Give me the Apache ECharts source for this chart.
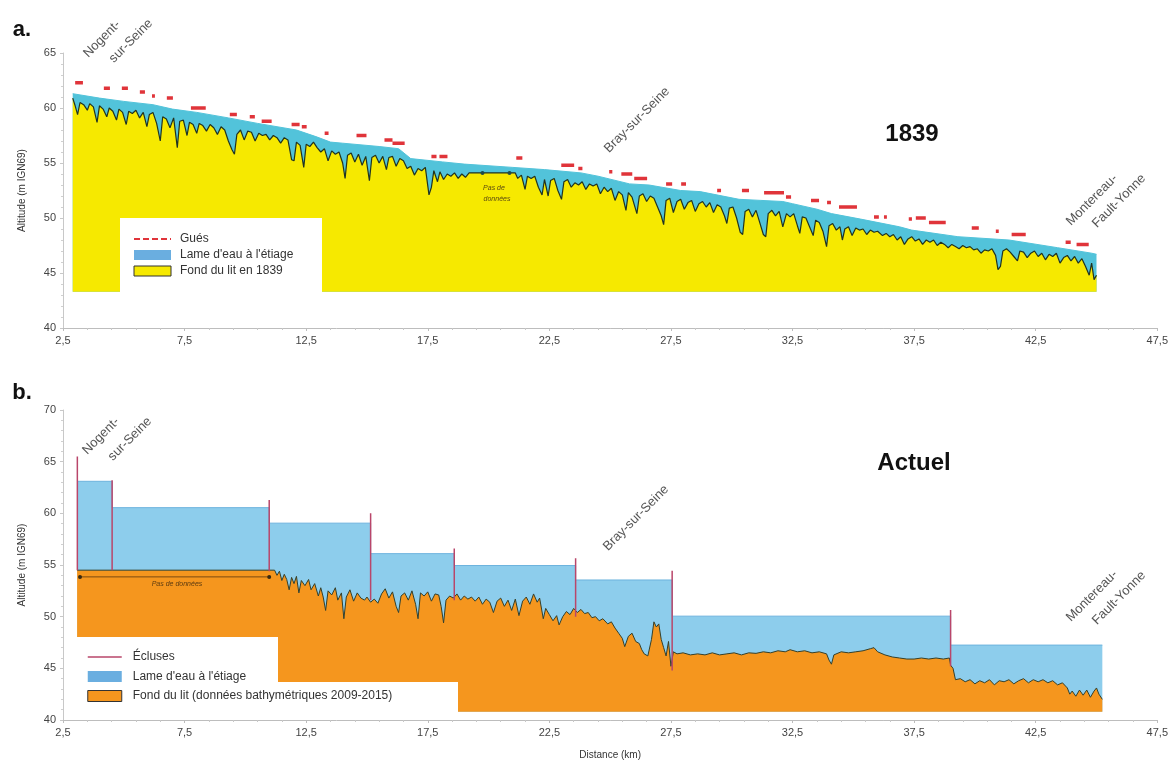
<!DOCTYPE html>
<html>
<head>
    <meta charset="utf-8">
    <title>Profil en long de la Seine</title>
    <script src="https://cdn.jsdelivr.net/npm/echarts@6/dist/echarts.min.js"></script>
    <style>
        html, body { margin: 0; padding: 0; background: #fff; }
        #main { width: 1171px; height: 766px; }
    </style>
</head>
<body>
<div id="main"></div>
<script type="text/javascript">
    // --- a. 1839 ---
    // fond du lit (km, altitude)
    var bed1839 = [[2.9,60.9],[3.0,60.2],[3.1,59.4],[3.2,60.5],[3.35,60.3],[3.5,59.8],[3.6,60.4],[3.75,60.1],[3.9,58.7],[4.0,60.2],[4.15,59.9],[4.3,59.2],[4.4,60.0],[4.55,59.7],[4.7,58.9],[4.8,59.9],[4.95,59.6],[5.1,58.5],[5.2,59.7],[5.35,59.5],[5.5,59.8],[5.65,59.1],[5.8,59.6],[5.95,58.3],[6.05,59.4],[6.2,59.6],[6.35,58.6],[6.5,57.0],[6.6,59.2],[6.75,59.0],[6.9,58.2],[7.05,59.1],[7.2,56.4],[7.3,58.8],[7.45,58.9],[7.6,57.5],[7.7,58.7],[7.85,58.5],[8.0,57.7],[8.1,58.6],[8.25,58.4],[8.4,57.9],[8.55,58.5],[8.7,58.2],[8.85,57.6],[9.0,58.3],[9.15,58.0],[9.3,57.0],[9.45,56.2],[9.55,55.8],[9.65,57.6],[9.8,58.0],[9.95,57.1],[10.1,57.9],[10.25,57.8],[10.4,57.0],[10.55,57.7],[10.7,57.5],[10.85,57.6],[11.0,57.1],[11.15,57.5],[11.3,57.3],[11.45,56.8],[11.6,57.3],[11.75,57.1],[11.9,55.3],[12.0,55.2],[12.1,56.9],[12.25,56.6],[12.4,54.6],[12.5,56.7],[12.65,56.5],[12.8,56.9],[12.95,56.4],[13.1,56.0],[13.25,56.3],[13.4,55.2],[13.55,56.1],[13.7,55.8],[13.85,56.0],[14.0,55.0],[14.1,53.6],[14.2,55.7],[14.35,55.9],[14.5,55.1],[14.65,55.8],[14.8,54.8],[14.95,55.6],[15.1,53.4],[15.2,55.5],[15.35,55.7],[15.5,55.0],[15.65,55.6],[15.8,54.4],[15.9,55.5],[16.05,55.6],[16.2,54.7],[16.35,55.4],[16.5,55.2],[16.65,54.5],[16.8,54.7],[16.95,53.9],[17.1,54.5],[17.25,54.3],[17.4,54.6],[17.55,52.1],[17.65,52.8],[17.75,54.3],[17.9,53.3],[18.0,54.2],[18.15,53.5],[18.3,54.0],[18.45,53.8],[18.6,54.1],[18.75,53.6],[18.9,54.0],[19.05,53.7],[19.2,54.1],[21.1,54.1],[21.2,53.6],[21.35,53.9],[21.5,52.6],[21.6,53.8],[21.75,53.6],[21.9,53.8],[22.05,52.8],[22.2,52.1],[22.3,53.5],[22.45,52.0],[22.55,53.4],[22.7,53.6],[22.85,52.5],[23.0,51.7],[23.1,53.3],[23.25,53.5],[23.4,52.8],[23.55,53.2],[23.7,53.0],[23.85,53.3],[24.0,52.6],[24.15,53.1],[24.3,52.9],[24.45,53.1],[24.6,52.2],[24.75,52.8],[24.9,52.4],[25.05,52.7],[25.2,51.6],[25.35,52.4],[25.5,52.1],[25.65,50.7],[25.75,52.3],[25.9,51.9],[26.1,50.4],[26.2,52.0],[26.35,52.2],[26.5,51.5],[26.65,52.0],[26.8,51.8],[26.95,51.0],[27.1,50.2],[27.2,49.4],[27.3,51.6],[27.45,51.8],[27.6,50.5],[27.75,51.5],[27.9,51.7],[28.05,50.8],[28.2,51.4],[28.35,51.6],[28.5,50.6],[28.65,51.3],[28.8,51.5],[28.95,51.0],[29.1,51.4],[29.25,50.5],[29.4,51.2],[29.55,51.0],[29.7,50.2],[29.8,49.5],[29.9,50.9],[30.05,51.0],[30.2,50.0],[30.35,48.7],[30.45,48.5],[30.55,50.6],[30.7,50.8],[30.85,50.1],[31.0,50.7],[31.15,49.6],[31.3,48.5],[31.4,48.3],[31.5,50.4],[31.65,50.7],[31.8,50.2],[31.95,50.6],[32.1,49.2],[32.25,50.4],[32.4,50.1],[32.55,50.4],[32.7,49.3],[32.8,48.6],[32.9,50.1],[33.05,50.0],[33.2,49.2],[33.35,48.4],[33.45,49.8],[33.6,49.6],[33.75,48.8],[33.9,47.4],[34.0,49.3],[34.15,49.5],[34.3,48.9],[34.45,49.2],[34.55,48.0],[34.65,49.0],[34.8,49.2],[34.95,48.4],[35.1,49.1],[35.25,48.9],[35.4,49.0],[35.55,48.5],[35.7,48.9],[35.85,48.7],[36.0,48.8],[36.2,48.4],[36.35,48.6],[36.5,48.3],[36.65,48.5],[36.8,48.0],[36.95,48.3],[37.1,47.6],[37.25,48.1],[37.4,48.3],[37.55,47.9],[37.7,48.1],[37.85,47.6],[38.0,48.0],[38.15,47.8],[38.3,48.0],[38.45,47.5],[38.6,47.8],[38.75,47.6],[38.9,47.3],[39.05,47.6],[39.2,47.4],[39.35,47.2],[39.5,47.5],[39.65,47.3],[39.8,47.4],[39.95,47.1],[40.1,47.2],[40.25,46.8],[40.4,47.1],[40.55,47.0],[40.7,47.2],[40.85,46.6],[40.95,45.3],[41.05,45.6],[41.15,47.0],[41.3,47.2],[41.45,46.9],[41.6,46.5],[41.75,46.1],[41.85,47.0],[42.0,46.9],[42.15,46.4],[42.3,46.8],[42.45,47.0],[42.6,46.5],[42.75,46.8],[42.9,46.2],[43.05,46.7],[43.2,46.5],[43.35,46.8],[43.5,45.9],[43.65,46.4],[43.8,46.6],[43.95,46.1],[44.1,46.5],[44.25,45.9],[44.4,46.3],[44.55,45.6],[44.7,44.8],[44.8,45.9],[44.9,44.4],[45.0,44.8]];
    // ligne d'eau à l'étiage
    var water1839 = [[2.9,61.3],[4,60.9],[5,60.6],[6.2,60.3],[7,59.9],[8,59.6],[9.3,59.1],[10.5,58.6],[12.1,58.0],[12.9,57.4],[13.5,56.9],[14,56.8],[15.5,56.5],[16.3,56.3],[16.8,55.4],[18.1,55.1],[19,54.9],[21,54.6],[22.3,54.4],[23.8,54.1],[24.5,53.8],[25.8,53.1],[26.6,53.0],[27.9,52.5],[28.7,52.4],[30.3,51.7],[31.2,51.6],[32.1,51.5],[32.5,51.3],[33.5,50.8],[34.1,50.4],[35.3,49.9],[36.9,49.2],[37.4,48.9],[39.3,48.3],[41.4,48.0],[43.4,47.3],[44.8,46.8],[45.0,46.7]];
    // gués : début, fin (km), altitude
    var guesStart = [3.0,4.18,4.92,5.66,6.16,6.77,7.76,9.36,10.18,10.67,11.9,12.32,13.26,14.57,15.72,16.05,17.65,17.98,21.14,22.99,23.69,24.96,25.46,25.99,27.3,27.92,29.4,30.42,31.33,32.23,33.26,33.92,34.41,35.85,36.26,37.28,37.57,38.11,39.87,40.86,41.51,43.73,44.18];
    var guesEnd   = [3.32,4.43,5.17,5.87,6.28,7.02,8.37,9.65,10.39,11.08,12.23,12.52,13.42,14.98,16.05,16.55,17.86,18.31,21.39,23.52,23.86,25.09,25.91,26.52,27.55,28.12,29.56,30.71,32.15,32.44,33.59,34.08,35.15,36.05,36.38,37.41,37.98,38.8,40.16,40.98,42.09,43.94,44.68];
    var guesAlt   = [62.3,61.8,61.8,61.45,61.1,60.9,60.0,59.4,59.2,58.8,58.5,58.3,57.7,57.5,57.1,56.8,55.6,55.6,55.45,54.8,54.5,54.2,54.0,53.6,53.1,53.1,52.5,52.5,52.3,51.9,51.6,51.4,51.0,50.1,50.1,49.9,50.0,49.6,49.1,48.8,48.5,47.8,47.6];
    var noData1839 = [[19.75,54.1],[20.86,54.1]];

    // --- b. Actuel ---
    var lockKm     = [3.09, 4.52, 10.98, 15.15, 18.59, 23.58, 27.55, 39.0];
    var lockTop    = [65.5, 63.2, 61.3, 60.0, 56.6, 55.65, 54.45, 50.65];
    var lockBottom = [54.5, 54.5, 54.4, 51.6, 51.6, 50.0, 44.8, 45.2];
    var reachLevel = [63.1, 60.55, 59.05, 56.1, 54.95, 53.55, 50.05, 47.25];
    var reachEndKm = 45.24;
    var bedActuel = [[3.08,54.5],[11.2,54.5],[11.3,54.0],[11.4,54.4],[11.5,53.5],[11.6,54.1],[11.7,53.6],[11.8,52.6],[11.9,53.8],[12.0,53.2],[12.1,53.9],[12.2,52.3],[12.3,53.5],[12.45,53.0],[12.6,53.6],[12.7,52.6],[12.85,53.2],[13.0,52.0],[13.1,52.8],[13.2,51.9],[13.3,50.6],[13.4,52.5],[13.55,52.1],[13.7,52.8],[13.8,51.6],[13.95,52.3],[14.05,49.8],[14.15,51.9],[14.3,52.6],[14.45,51.5],[14.6,52.3],[14.75,51.8],[14.9,51.6],[15.0,51.9],[15.15,51.4],[15.3,51.7],[15.45,51.3],[15.6,52.2],[15.75,52.7],[15.9,51.8],[16.05,52.4],[16.2,51.0],[16.3,50.4],[16.4,52.0],[16.55,52.3],[16.7,51.6],[16.85,52.5],[17.0,51.2],[17.1,49.8],[17.2,52.3],[17.35,52.0],[17.5,52.4],[17.65,51.5],[17.8,52.2],[17.95,52.1],[18.05,51.0],[18.15,49.4],[18.25,51.6],[18.4,52.0],[18.55,51.8],[18.7,52.2],[18.85,51.6],[19.0,52.0],[19.15,51.7],[19.3,51.9],[19.45,51.5],[19.6,51.9],[19.75,51.2],[19.9,51.7],[20.05,51.4],[20.2,50.4],[20.35,51.5],[20.5,51.8],[20.65,51.0],[20.8,51.6],[20.95,50.6],[21.1,51.7],[21.25,50.1],[21.4,51.5],[21.55,51.9],[21.7,51.2],[21.85,52.2],[22.0,51.4],[22.1,51.8],[22.25,49.8],[22.35,50.8],[22.5,50.2],[22.65,49.6],[22.8,50.1],[22.9,49.2],[23.05,50.0],[23.2,50.5],[23.35,50.2],[23.5,50.8],[23.65,50.4],[23.8,50.7],[23.95,50.3],[24.1,50.4],[24.25,49.9],[24.4,50.0],[24.55,49.6],[24.7,49.8],[24.9,49.3],[25.05,49.5],[25.2,48.9],[25.35,48.4],[25.5,47.9],[25.6,47.1],[25.75,48.1],[25.9,48.4],[26.05,47.6],[26.2,47.4],[26.3,46.8],[26.4,46.4],[26.55,46.2],[26.7,47.8],[26.8,49.5],[26.9,49.0],[27.0,49.3],[27.1,47.8],[27.2,47.0],[27.3,46.2],[27.4,47.6],[27.5,45.2],[27.6,46.6],[27.75,46.4],[28.0,46.5],[28.3,46.3],[28.6,46.4],[28.9,46.3],[29.2,46.5],[29.5,46.3],[29.8,46.4],[30.1,46.5],[30.4,46.3],[30.7,46.5],[31.0,46.45],[31.3,46.6],[31.6,46.5],[31.9,46.7],[32.2,46.6],[32.4,46.8],[32.7,46.6],[33.0,46.7],[33.3,46.5],[33.6,46.6],[33.9,46.4],[34.0,45.8],[34.1,45.4],[34.2,46.3],[34.5,46.6],[34.8,46.5],[35.1,46.6],[35.4,46.7],[35.7,46.9],[35.85,47.0],[36.0,46.6],[36.3,46.3],[36.6,46.1],[36.9,46.0],[37.2,45.9],[37.5,45.9],[37.8,46.0],[38.1,45.9],[38.4,46.0],[38.7,45.9],[38.95,46.0],[39.0,45.3],[39.1,45.0],[39.2,43.9],[39.4,44.0],[39.6,43.7],[39.8,43.9],[40.0,43.5],[40.2,43.8],[40.4,43.6],[40.6,43.9],[40.8,43.4],[41.0,43.8],[41.2,43.7],[41.4,43.9],[41.6,43.5],[41.8,43.8],[42.0,44.0],[42.2,43.6],[42.4,43.9],[42.6,43.7],[42.8,43.9],[43.0,43.6],[43.2,43.8],[43.4,43.4],[43.6,43.6],[43.8,43.1],[43.9,42.5],[44.0,42.8],[44.15,42.3],[44.3,42.9],[44.45,42.4],[44.6,42.9],[44.75,42.2],[44.9,42.8],[45.0,43.1],[45.1,42.5],[45.24,42.0]];
    var noDataActuel = [[3.2,53.85],[10.98,53.85]];

    var yellow = '#f6e900', cyan = '#52c3da', red = '#e0343a';
    var orange = '#f5961e', lightBlue = '#8dcdec', lockColor = '#b9466a', legendBlue = '#6aaee0';
    var font = '"Liberation Sans", Arial, sans-serif';

    // segments des gués séparés par des points vides
    var guesData = [];
    for (var i = 0; i < guesStart.length; i++) {
        guesData.push([guesStart[i], guesAlt[i]], [guesEnd[i], guesAlt[i]], [guesEnd[i], null]);
    }
    // écluses : traits verticaux
    var lockData = [];
    for (var i = 0; i < lockKm.length; i++) {
        lockData.push([lockKm[i], lockBottom[i]], [lockKm[i], lockTop[i]], [lockKm[i], null]);
    }
    // biefs : ligne d'eau en escalier
    var reachData = [];
    for (var i = 0; i < lockKm.length; i++) {
        var next = i + 1 < lockKm.length ? lockKm[i + 1] : reachEndKm;
        reachData.push([lockKm[i], reachLevel[i]], [next, reachLevel[i]]);
    }

    function xAxisOf(grid, name) {
        return {
            type: 'value', gridIndex: grid, min: 2.5, max: 47.5, interval: 5,
            name: name || '', nameLocation: 'middle', nameGap: 30,
            nameTextStyle: { fontSize: 10, color: '#333', fontFamily: font },
            axisLine: { lineStyle: { color: '#bdbdbd' } },
            axisTick: { length: 3, lineStyle: { color: '#bdbdbd' } },
            minorTick: { show: true, splitNumber: 5, length: 2, lineStyle: { color: '#c8c8c8' } },
            splitLine: { show: false },
            axisLabel: {
                color: '#444', fontSize: 11, fontFamily: font, margin: 7,
                formatter: function (v) { return v.toFixed(1).replace('.', ','); }
            }
        };
    }
    function yAxisOf(grid, max) {
        return {
            type: 'value', gridIndex: grid, min: 40, max: max, interval: 5,
            name: 'Altitude (m IGN69)', nameLocation: 'middle', nameGap: 36,
            nameTextStyle: { fontSize: 10, color: '#333', fontFamily: font },
            axisLine: { show: true, lineStyle: { color: '#c8c8c8' } },
            axisTick: { length: 3, lineStyle: { color: '#c8c8c8' } },
            minorTick: { show: true, splitNumber: 5, length: 2, lineStyle: { color: '#d0d0d0' } },
            splitLine: { show: false },
            axisLabel: { color: '#444', fontSize: 11, fontFamily: font, margin: 7 }
        };
    }
    function rotText(txt, x, y, size) {
        return {
            type: 'text', x: x, y: y, rotation: Math.PI / 4, z: 20,
            style: { text: txt, fill: '#555', font: (size || 13) + 'px ' + font, align: 'center', verticalAlign: 'middle' }
        };
    }
    function plainText(txt, x, y, f, color) {
        return {
            type: 'text', x: x, y: y, z: 20,
            style: { text: txt, fill: color || '#111', font: f, align: 'center', verticalAlign: 'middle' }
        };
    }

    var myChart = echarts.init(document.getElementById('main'));
    var option = {
        animation: false,
        backgroundColor: '#fff',
        grid: [
            { left: 63, right: 11, top: 53, height: 275 },
            { left: 63, right: 11, top: 410, height: 310 }
        ],
        xAxis: [xAxisOf(0), xAxisOf(1, 'Distance (km)')],
        yAxis: [yAxisOf(0, 65), yAxisOf(1, 70)],
        legend: [
            {
                left: 128, top: 228, orient: 'vertical', itemWidth: 37, itemHeight: 10, itemGap: 4, z: 12,
                textStyle: { fontSize: 12, color: '#333', fontFamily: font, padding: [0, 0, 0, 4] },
                data: [
                    { name: 'Gués', itemStyle: { opacity: 0, borderWidth: 0 }, lineStyle: { color: red, type: [6, 3], width: 2 } },
                    { name: "Lame d'eau à l'étiage", icon: 'rect', itemStyle: { color: legendBlue } },
                    { name: 'Fond du lit en 1839', icon: 'rect', itemStyle: { color: yellow, borderColor: '#333', borderWidth: 1 } }
                ]
            },
            {
                left: 82, top: 646, orient: 'vertical', itemWidth: 34, itemHeight: 11, itemGap: 7.5, z: 12,
                textStyle: { fontSize: 12, color: '#333', fontFamily: font, padding: [0, 0, 0, 6] },
                data: [
                    { name: 'Écluses', itemStyle: { opacity: 0, borderWidth: 0 }, lineStyle: { color: lockColor, width: 1.5 } },
                    { name: "Lame d'eau à l'étiage", icon: 'rect', itemStyle: { color: legendBlue } },
                    { name: 'Fond du lit (données bathymétriques 2009-2015)', icon: 'rect', itemStyle: { color: orange, borderColor: '#333', borderWidth: 1 } }
                ]
            }
        ],
        graphic: [
            // cadres blancs des légendes
            { type: 'rect', left: 120, top: 218, z: 10, shape: { width: 202, height: 76 }, style: { fill: '#fff' } },
            { type: 'rect', left: 70, top: 637, z: 10, shape: { width: 208, height: 82 }, style: { fill: '#fff' } },
            { type: 'rect', left: 278, top: 682, z: 10, shape: { width: 180, height: 37 }, style: { fill: '#fff' } },
            plainText('a.', 22, 30, 'bold 22px ' + font),
            plainText('b.', 22, 393, 'bold 22px ' + font),
            plainText('1839', 912, 134, 'bold 24px ' + font),
            plainText('Actuel', 914, 463, 'bold 24px ' + font),
            rotText('Nogent-', 102, 39), rotText('sur-Seine', 131, 41),
            rotText('Bray-sur-Seine', 637, 120),
            rotText('Montereau-', 1092, 200), rotText('Fault-Yonne', 1119, 201),
            rotText('Nogent-', 101, 436), rotText('sur-Seine', 130, 439),
            rotText('Bray-sur-Seine', 636, 518),
            rotText('Montereau-', 1092, 596), rotText('Fault-Yonne', 1119, 598),
            plainText('Pas de', 494, 188, 'italic 7px ' + font, '#5b4a10'),
            plainText('données', 497, 199, 'italic 7px ' + font, '#5b4a10'),
            plainText('Pas de données', 177, 584, 'italic 7px ' + font, '#5b3a10')
        ],
        series: [
            {
                name: "Lame d'eau à l'étiage", type: 'line', xAxisIndex: 0, yAxisIndex: 0, z: 2,
                data: water1839, symbol: 'none', silent: true,
                lineStyle: { color: cyan, width: 1 },
                areaStyle: { color: cyan, opacity: 1, origin: 43.3 }
            },
            {
                name: 'Fond du lit en 1839', type: 'line', xAxisIndex: 0, yAxisIndex: 0, z: 3,
                data: bed1839, symbol: 'none', silent: true,
                lineStyle: { color: '#22331f', width: 1.2 },
                areaStyle: { color: yellow, opacity: 1, origin: 43.3 }
            },
            {
                name: 'noData1839', type: 'line', xAxisIndex: 0, yAxisIndex: 0, z: 4,
                data: noData1839, symbol: 'circle', symbolSize: 4, silent: true,
                itemStyle: { color: '#1f4a4a' }, lineStyle: { width: 0 }
            },
            {
                name: 'Gués', type: 'line', xAxisIndex: 0, yAxisIndex: 0, z: 4,
                data: guesData, symbol: 'none', connectNulls: false, silent: true,
                lineStyle: { color: red, width: 3.5 }
            },
            {
                name: "Lame d'eau à l'étiage", type: 'line', xAxisIndex: 1, yAxisIndex: 1, z: 2,
                data: reachData, symbol: 'none', silent: true,
                lineStyle: { color: '#6db3de', width: 1 },
                areaStyle: { color: lightBlue, opacity: 1, origin: 40.8 }
            },
            {
                name: 'Fond du lit (données bathymétriques 2009-2015)', type: 'line', xAxisIndex: 1, yAxisIndex: 1, z: 3,
                data: bedActuel, symbol: 'none', silent: true,
                lineStyle: { color: '#34402c', width: 1 },
                areaStyle: { color: orange, opacity: 1, origin: 40.8 }
            },
            {
                name: 'noDataActuel', type: 'line', xAxisIndex: 1, yAxisIndex: 1, z: 4,
                data: noDataActuel, symbol: 'circle', symbolSize: 4, silent: true,
                itemStyle: { color: '#3a2a10' }, lineStyle: { color: '#7a4a10', width: 1 }
            },
            {
                name: 'Écluses', type: 'line', xAxisIndex: 1, yAxisIndex: 1, z: 4,
                data: lockData, symbol: 'none', connectNulls: false, silent: true,
                lineStyle: { color: lockColor, width: 1.5 }
            }
        ]
    };
    myChart.setOption(option);
</script>
</body>
</html>
